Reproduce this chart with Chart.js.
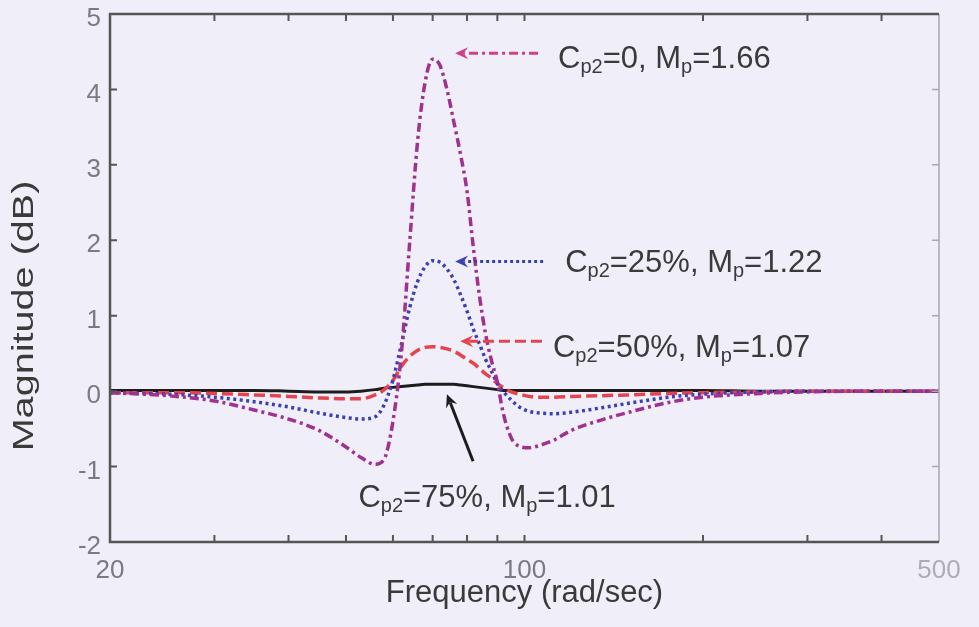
<!DOCTYPE html>
<html>
<head>
<meta charset="utf-8">
<title>Magnitude (dB) vs Frequency</title>
<script src="https://cdn.jsdelivr.net/npm/chart.js@4.4.1/dist/chart.umd.min.js"></script>
<style>
  html, body { margin: 0; padding: 0; background: #f0eff9; }
</style>
</head>
<body>
<canvas id="magChart" width="979" height="627"></canvas>
<script>
// Frequenzraster (rad/sec), gemeinsam fuer alle Kurven
const freq = [20, 25, 30, 35, 40, 45, 50, 53, 56, 58, 60, 62, 64, 66, 68, 70, 72, 74, 76, 78,
              80, 82, 84, 86, 88, 90, 92, 95, 98, 102, 106, 112, 120, 135, 150, 175, 200, 250, 300, 400, 500];

// Betrag in dB fuer Cp2 = 0, 25 %, 50 %, 75 %
const magCp0 = [-0.02, -0.06, -0.13, -0.25, -0.37, -0.52, -0.74, -0.88, -0.97, -0.90, -0.40, 0.50, 1.95, 3.30, 4.10, 4.40, 4.32, 4.00, 3.57, 3.14,
                2.65, 1.90, 1.25, 0.75, 0.40, 0.12, -0.28, -0.62, -0.73, -0.75, -0.72, -0.65, -0.52, -0.38, -0.28, -0.15, -0.08, -0.03, -0.01, 0, 0];
const magCp25 = [-0.02, -0.04, -0.08, -0.14, -0.21, -0.29, -0.35, -0.37, -0.34, -0.18, 0.15, 0.62, 1.10, 1.45, 1.65, 1.73, 1.71, 1.62, 1.48, 1.28,
                 1.06, 0.82, 0.62, 0.42, 0.26, 0.10, 0.0, -0.12, -0.21, -0.27, -0.29, -0.30, -0.28, -0.22, -0.16, -0.08, -0.04, -0.01, 0, 0, 0];
const magCp50 = [-0.02, -0.02, -0.03, -0.05, -0.07, -0.09, -0.10, -0.10, -0.05, 0.02, 0.14, 0.33, 0.46, 0.54, 0.58, 0.59, 0.58, 0.56, 0.53, 0.48,
                 0.42, 0.37, 0.30, 0.23, 0.17, 0.10, 0.05, -0.01, -0.04, -0.07, -0.08, -0.08, -0.07, -0.06, -0.05, -0.03, -0.02, -0.01, 0, 0, 0];
const magCp75 = [0.01, 0.01, 0.01, 0.01, 0.0, -0.01, -0.01, 0.0, 0.02, 0.04, 0.05, 0.06, 0.07, 0.08, 0.09, 0.09, 0.09, 0.09, 0.09, 0.08,
                 0.07, 0.06, 0.05, 0.04, 0.03, 0.02, 0.01, 0.01, 0.01, 0.01, 0.01, 0.01, 0.01, 0.01, 0.01, 0.01, 0.01, 0.0, 0.0, 0.0, 0.0];

// Achsenbeschriftung
const xLabelTicks = [20, 100, 500];
const xMinorTicks = [30, 40, 50, 60, 70, 80, 90, 100, 200, 300, 400];
const yTickValues = [-2, -1, 0, 1, 2, 3, 4, 5];

const FONT = '"Liberation Sans", Arial, Helvetica, sans-serif';
const colMagenta = '#a1318f';
const colBlue = '#3b41b5';
const colRed = '#e6434d';
const colBlack = '#1c1c1c';
const colText = '#3a3a3a';

// Pfeile mit Beschriftung: Spitze/Ende in Dateneinheiten, Text relativ zum Pfeilende in px
const callouts = [
  { label: 'C_{p2}=0, M_{p}=1.66', color: '#cf3f8c', dash: [9, 4, 3, 4], tip: [76.4, 4.48], tail: [105.4, 4.48], dx: 20, dy: 15, align: 'left' },
  { label: 'C_{p2}=25%, M_{p}=1.22', color: colBlue, dash: [3, 3], tip: [76.4, 1.72], tail: [107.5, 1.72], dx: 22, dy: 11, align: 'left' },
  { label: 'C_{p2}=50%, M_{p}=1.07', color: colRed, dash: [11, 5], tip: [77.9, 0.66], tail: [107, 0.66], dx: 11, dy: 16, align: 'left' },
  { label: 'C_{p2}=75%, M_{p}=1.01', color: colBlack, dash: [], tip: [74.0, -0.04], tail: [81.9, -0.93], dx: 14, dy: 46, align: 'center' }
];

function toPoints(ys) {
  return freq.map((f, i) => ({ x: f, y: ys[i] }));
}

// "C_{p2}" -> Text mit tiefgestelltem Teil
function runsOf(s) {
  return s.split(/(_\{[^}]*\})/).filter(Boolean)
    .map(t => t.startsWith('_{') ? { text: t.slice(2, -1), sub: true } : { text: t, sub: false });
}

function drawRich(ctx, x, y, str, size, align) {
  const main = size + 'px ' + FONT;
  const sub = Math.round(size * 0.65) + 'px ' + FONT;
  const runs = runsOf(str);
  let w = 0;
  runs.forEach(r => { ctx.font = r.sub ? sub : main; w += ctx.measureText(r.text).width; });
  let cx = align === 'center' ? x - w / 2 : x;
  ctx.textAlign = 'left';
  ctx.textBaseline = 'alphabetic';
  runs.forEach(r => {
    ctx.font = r.sub ? sub : main;
    ctx.fillText(r.text, cx, r.sub ? y + 5 : y);
    cx += ctx.measureText(r.text).width;
  });
}

function drawArrow(ctx, x0, y0, x1, y1, color, dash) {
  const ang = Math.atan2(y1 - y0, x1 - x0);
  const len = 13, half = 6;
  const bx = x1 - Math.cos(ang) * len, by = y1 - Math.sin(ang) * len;
  ctx.save();
  ctx.strokeStyle = color;
  ctx.fillStyle = color;
  ctx.lineWidth = 3;
  ctx.setLineDash(dash);
  ctx.beginPath();
  ctx.moveTo(x0, y0);
  ctx.lineTo(bx + Math.cos(ang) * 4, by + Math.sin(ang) * 4);
  ctx.stroke();
  ctx.setLineDash([]);
  ctx.beginPath();
  ctx.moveTo(x1, y1);
  ctx.lineTo(bx - Math.sin(ang) * half, by + Math.cos(ang) * half);
  ctx.lineTo(x1 - Math.cos(ang) * len * 0.65, y1 - Math.sin(ang) * len * 0.65);
  ctx.lineTo(bx + Math.sin(ang) * half, by - Math.cos(ang) * half);
  ctx.closePath();
  ctx.fill();
  ctx.restore();
}

// Hintergrund
const background = {
  id: 'background',
  beforeDraw(chart) {
    const { ctx, width, height } = chart;
    ctx.save();
    ctx.fillStyle = '#f0eff9';
    ctx.fillRect(0, 0, width, height);
    ctx.restore();
  }
};

// Rahmen mit nach innen zeigenden Ticks, Pfeile, y-Achsentitel
const frame = {
  id: 'frame',
  afterDatasetsDraw(chart) {
    const { ctx, chartArea: a, scales: { x, y } } = chart;
    const tl = 7;
    ctx.save();
    ctx.lineCap = 'butt';

    // rechte Kante heller
    ctx.strokeStyle = '#a8a8b0';
    ctx.lineWidth = 1.5;
    ctx.beginPath();
    ctx.moveTo(a.right, a.top);
    ctx.lineTo(a.right, a.bottom);
    yTickValues.forEach(v => {
      const py = y.getPixelForValue(v);
      ctx.moveTo(a.right, py);
      ctx.lineTo(a.right - tl, py);
    });
    ctx.stroke();

    ctx.strokeStyle = '#555';
    ctx.lineWidth = 2.5;
    ctx.beginPath();
    ctx.moveTo(a.right, a.top);
    ctx.lineTo(a.left, a.top);
    ctx.lineTo(a.left, a.bottom);
    ctx.lineTo(a.right, a.bottom);
    ctx.stroke();

    ctx.lineWidth = 2;
    ctx.beginPath();
    xMinorTicks.forEach(v => {
      const px = x.getPixelForValue(v);
      ctx.moveTo(px, a.bottom);
      ctx.lineTo(px, a.bottom - tl);
      ctx.moveTo(px, a.top);
      ctx.lineTo(px, a.top + tl);
    });
    yTickValues.forEach(v => {
      const py = y.getPixelForValue(v);
      ctx.moveTo(a.left, py);
      ctx.lineTo(a.left + tl, py);
    });
    ctx.stroke();

    // Pfeile und Beschriftungen
    callouts.forEach(c => {
      const x0 = x.getPixelForValue(c.tail[0]), y0 = y.getPixelForValue(c.tail[1]);
      const x1 = x.getPixelForValue(c.tip[0]), y1 = y.getPixelForValue(c.tip[1]);
      drawArrow(ctx, x0, y0, x1, y1, c.color, c.dash);
      ctx.fillStyle = colText;
      drawRich(ctx, x0 + c.dx, y0 + c.dy, c.label, 31, c.align);
    });

    // y-Achsentitel (gedehnt)
    ctx.translate(33, (a.top + a.bottom) / 2 + 38);
    ctx.rotate(-Math.PI / 2);
    ctx.scale(1.32, 1);
    ctx.font = '30px ' + FONT;
    ctx.fillStyle = colText;
    ctx.textAlign = 'center';
    ctx.textBaseline = 'alphabetic';
    ctx.fillText('Magnitude (dB)', 0, 0);
    ctx.restore();
  }
};

const ctx = document.getElementById('magChart').getContext('2d');

const magChart = new Chart(ctx, {
  type: 'line',
  data: {
    datasets: [
      { label: 'Cp2=0', data: toPoints(magCp0), borderColor: colMagenta, borderWidth: 3.5, borderDash: [9, 4, 3, 4] },
      { label: 'Cp2=25%', data: toPoints(magCp25), borderColor: colBlue, borderWidth: 3.5, borderDash: [3, 3.5] },
      { label: 'Cp2=50%', data: toPoints(magCp50), borderColor: colRed, borderWidth: 3.5, borderDash: [11, 5] },
      { label: 'Cp2=75%', data: toPoints(magCp75), borderColor: colBlack, borderWidth: 3 }
    ]
  },
  options: {
    responsive: false,
    animation: false,
    layout: { padding: { top: 14, right: 40, bottom: 0, left: 0 } },
    elements: {
      point: { radius: 0 },
      line: { cubicInterpolationMode: 'monotone', borderCapStyle: 'butt', fill: false }
    },
    plugins: {
      legend: { display: false },
      tooltip: { enabled: false }
    },
    scales: {
      x: {
        type: 'logarithmic',
        min: 20,
        max: 500,
        grid: { display: false, drawTicks: false },
        border: { display: false },
        afterBuildTicks: axis => { axis.ticks = xLabelTicks.map(v => ({ value: v })); },
        afterFit: scale => {
          scale.height = 85;
          scale.paddingLeft = 0;
          scale.paddingRight = 0;
        },
        ticks: {
          autoSkip: false,
          maxRotation: 0,
          padding: 13,
          font: { family: FONT, size: 26 },
          color: c => c.tick && c.tick.value === 500 ? '#acacb4' : '#7a7a80',
          callback: v => String(v)
        },
        title: {
          display: true,
          text: 'Frequency (rad/sec)',
          color: colText,
          font: { family: FONT, size: 31 },
          padding: { top: 0, bottom: 15 }
        }
      },
      y: {
        min: -2,
        max: 5,
        grid: { display: false, drawTicks: false },
        border: { display: false },
        afterFit: scale => {
          scale.width = 110;
          scale.paddingTop = 0;
          scale.paddingBottom = 0;
        },
        ticks: {
          stepSize: 1,
          padding: 9,
          labelOffset: 5,
          font: { family: FONT, size: 26 },
          color: '#7a7a80'
        }
      }
    }
  },
  plugins: [background, frame]
});
</script>
</body>
</html>
